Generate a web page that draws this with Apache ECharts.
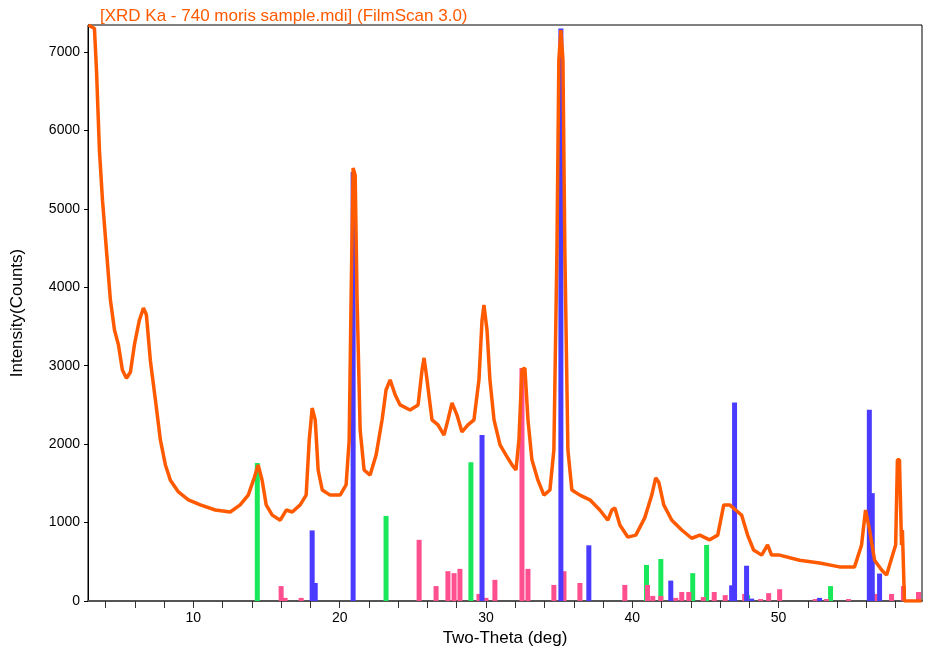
<!DOCTYPE html>
<html>
<head>
<meta charset="utf-8">
<script src="https://cdn.jsdelivr.net/npm/echarts@6/dist/echarts.min.js"></script>
<style>html,body{margin:0;padding:0;background:#fff}#c{width:925px;height:649px}</style>
</head>
<body>
<div id="c"></div>
<script>
// scan profile [two-theta, counts]
const scan = [
  [2.83,7344],[3.24,7300],[3.38,6770],[3.58,5750],[3.79,5110],[4.06,4475],[4.33,3840],[4.61,3455],
  [4.88,3265],[5.15,2945],[5.43,2840],[5.70,2920],[5.97,3265],[6.31,3580],[6.59,3735],[6.79,3650],
  [7.06,3070],[7.41,2560],[7.75,2050],[8.09,1735],[8.43,1540],[8.98,1390],[9.66,1290],[10.48,1225],
  [11.5,1160],[12.52,1135],[13.2,1225],[13.75,1350],[14.16,1570],[14.43,1735],[14.7,1540],[14.98,1225],
  [15.39,1095],[15.94,1030],[16.35,1160],[16.76,1135],[17.3,1225],[17.71,1350],[17.92,2050],[18.12,2460],
  [18.33,2310],[18.53,1670],[18.81,1415],[19.35,1350],[20.03,1350],[20.44,1480],[20.65,2050],[20.78,3840],
  [20.92,5520],[21.06,5430],[21.19,3840],[21.4,2180],[21.67,1670],[22.08,1605],[22.49,1860],[22.9,2310],
  [23.17,2690],[23.45,2820],[23.79,2630],[24.13,2500],[24.81,2435],[25.36,2500],[25.63,2945],[25.77,3100],
  [25.97,2820],[26.31,2310],[26.72,2245],[27.13,2115],[27.4,2310],[27.68,2525],[28.02,2370],[28.36,2155],
  [28.77,2245],[29.18,2310],[29.52,2820],[29.73,3580],[29.86,3775],[30.07,3455],[30.27,2820],[30.55,2310],
  [30.96,1990],[31.37,1860],[31.78,1735],[32.05,1670],[32.25,2050],[32.46,2945],[32.66,2970],[32.87,2310],
  [33.14,1800],[33.55,1540],[33.96,1350],[34.37,1415],[34.64,1925],[34.85,4475],[34.98,6900],[35.12,7280],
  [35.26,6900],[35.39,4475],[35.6,1925],[35.87,1415],[36.42,1350],[37.1,1290],[37.78,1160],[38.33,1030],
  [38.6,1160],[38.81,1185],[39.15,970],[39.69,815],[40.24,840],[40.85,1060],[41.33,1350],[41.6,1570],
  [41.81,1515],[42.15,1225],[42.7,1030],[43.38,905],[44.06,800],[44.61,840],[45.29,780],[45.84,840],
  [46.25,1225],[46.66,1225],[47.06,1160],[47.47,1095],[47.88,840],[48.29,650],[48.84,585],[49.25,715],
  [49.52,585],[50.07,585],[51.43,520],[52.8,485],[54.16,435],[55.19,435],[55.67,715],[55.94,1160],
  [56.22,905],[56.56,520],[57.04,395],[57.38,330],[57.79,585],[58.0,715],[58.12,1800],[58.26,1800],
  [58.4,715],[58.46,905],[58.6,0],[59.76,0]
];
const blueRefs = [
  [18.12,900],[18.33,230],[20.92,5470],[29.73,2115],[35.12,7300],[37.03,710],[42.63,260],[46.79,200],
  [46.99,2530],[47.81,450],[48.16,30],[52.8,40],[56.2,2440],[56.4,1375],[56.9,350]
];
const greenRefs = [
  [14.37,1760],[23.17,1085],[28.97,1770],[40.97,460],[41.95,535],[44.13,355],[45.08,715],[47.88,75],
  [53.55,190],[56.4,115]
];
const pinkRefs = [
  [16.0,190],[16.27,40],[17.37,40],[25.43,780],[26.59,190],[27.4,380],[27.82,355],[28.22,410],[29.52,90],
  [30.0,40],[30.61,270],[32.46,2970],[32.87,410],[34.64,205],[35.33,380],[36.42,230],[39.49,205],[41.04,205],
  [41.4,65],[41.95,65],[42.97,40],[43.38,115],[43.86,115],[44.85,50],[45.6,115],[46.35,75],[47.68,90],
  [48.77,25],[49.32,100],[50.07,150],[52.5,25],[53.27,25],[54.78,25],[56.69,90],[57.72,90],[58.53,190],
  [59.56,115]
];
const xLabels = [10, 20, 30, 40, 50];
const xTicks = [4,6,8,10,12,14,16,18,20,22,24,26,28,30,32,34,36,38,40,42,44,46,48,50,52,54,56,58];
const yLabels = [0, 1000, 2000, 3000, 4000, 5000, 6000, 7000];

const font = 'Arial, "Liberation Sans", sans-serif';
const chart = echarts.init(document.getElementById('c'));
const bar = (data, color) => ({
  type: 'bar', data, barWidth: 5, barGap: '-100%', itemStyle: { color }, silent: true
});
chart.setOption({
  animation: false,
  title: {
    text: '[XRD Ka - 740 moris sample.mdi] (FilmScan 3.0)',
    left: 95, top: 3,
    textStyle: { color: '#ff5a00', fontSize: 17, fontWeight: 'normal', fontFamily: font }
  },
  grid: {
    left: 88, right: 3, top: 25, bottom: 48, outerBoundsMode: 'none',
    show: true, borderColor: '#000', borderWidth: 1
  },
  xAxis: {
    type: 'value', min: 2.8, max: 59.8,
    name: 'Two-Theta (deg)', nameLocation: 'middle', nameGap: 28,
    nameTextStyle: { fontSize: 17, color: '#000', fontFamily: font },
    splitLine: { show: false },
    axisLine: { lineStyle: { color: '#555', width: 2 } },
    axisTick: { customValues: xTicks, length: 7, lineStyle: { color: '#333' } },
    axisLabel: { customValues: xLabels, color: '#000', fontSize: 14, fontFamily: font, margin: 10 }
  },
  yAxis: {
    type: 'value', min: 0, max: 7344,
    name: 'Intensity(Counts)', nameLocation: 'middle', nameGap: 62,
    nameTextStyle: { fontSize: 17, color: '#000', fontFamily: font },
    splitLine: { show: false },
    axisLine: { show: true, lineStyle: { color: '#000' } },
    axisTick: { customValues: yLabels, length: 4 },
    axisLabel: { customValues: yLabels, formatter: v => String(v), color: '#000', fontSize: 14, fontFamily: font }
  },
  series: [
    bar(greenRefs, '#19e85a'),
    bar(pinkRefs, '#ff4f8f'),
    bar(blueRefs, '#4a3bff'),
    {
      type: 'line', data: scan, showSymbol: false, sampling: 'none',
      lineStyle: { color: '#ff5a00', width: 3.5 }, z: 5
    }
  ]
});
</script>
</body>
</html>
